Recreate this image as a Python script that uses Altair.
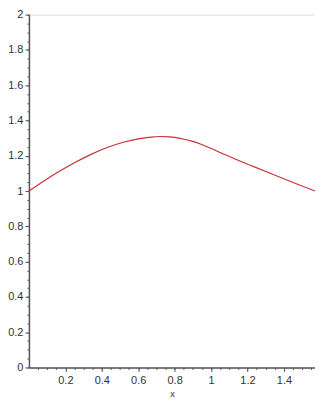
import altair as alt
import pandas as pd

xs = [0.0, 0.08, 0.158, 0.25, 0.341, 0.43, 0.523, 0.60, 0.670, 0.72, 0.770, 0.83, 0.89, 0.952, 1.04, 1.135, 1.225, 1.318, 1.44, 1.5708]
ys = [1.0, 1.055, 1.106, 1.16, 1.208, 1.247, 1.278, 1.296, 1.306, 1.309, 1.307, 1.299, 1.284, 1.262, 1.223, 1.180, 1.142, 1.104, 1.053, 1.0]

x_major = [0.2, 0.4, 0.6, 0.8, 1.0, 1.2, 1.4]
y_major = [0, 0.2, 0.4, 0.6, 0.8, 1.0, 1.2, 1.4, 1.6, 1.8, 2.0]
x_minor = [round(i * 0.05, 2) for i in range(1, 32)]
y_minor = [round(i * 0.05, 2) for i in range(0, 41)]

df = pd.DataFrame({"x": xs, "y": ys})

FONT = "Liberation Sans Narrow, Arial Narrow, Liberation Sans, sans-serif"
AX = "#555555"

xscale = alt.Scale(domain=[0, 1.5708], nice=False, zero=False)
yscale = alt.Scale(domain=[0, 2], nice=False)

line = alt.Chart(df).mark_line(color="#c83232", strokeWidth=1.2, interpolate="natural").encode(
    x=alt.X("x:Q", scale=xscale, title="x",
            axis=alt.Axis(values=x_major, format="~g", orient="bottom", domainColor=AX, domainWidth=1.5,
                          tickColor=AX, tickSize=4, labelColor="#333333", labelFont=FONT, labelFontSize=11,
                          titleFont=FONT, titleFontSize=9, titleFontWeight="normal", titleColor="#333333",
                          titlePadding=4, grid=False, labelPadding=3)),
    y=alt.Y("y:Q", scale=yscale, title=None,
            axis=alt.Axis(values=y_major, format="~g", orient="left", domainColor=AX, domainWidth=1.5,
                          tickColor=AX, tickSize=4, labelColor="#333333", labelFont=FONT, labelFontSize=11,
                          grid=False, labelPadding=2)),
)

minor = alt.Chart(df).mark_point(opacity=0).encode(
    x=alt.X("x:Q", scale=xscale, title=None,
            axis=alt.Axis(values=x_minor, labels=False, orient="bottom", domain=False,
                          tickColor=AX, tickSize=2, grid=False)),
    y=alt.Y("y:Q", scale=yscale, title=None,
            axis=alt.Axis(values=y_minor, labels=False, orient="left", domain=False,
                          tickColor=AX, tickSize=2, grid=False)),
)

chart = alt.layer(line, minor).resolve_axis(x="independent", y="independent").properties(
    width=287, height=354,
    autosize=alt.AutoSizeParams(type="none"),
    padding={"left": 21, "top": 6, "right": 0, "bottom": 31},
).configure_view(stroke=None).configure(background="white")

chart.save("out.html", embed_options={"renderer": "svg", "actions": False})
